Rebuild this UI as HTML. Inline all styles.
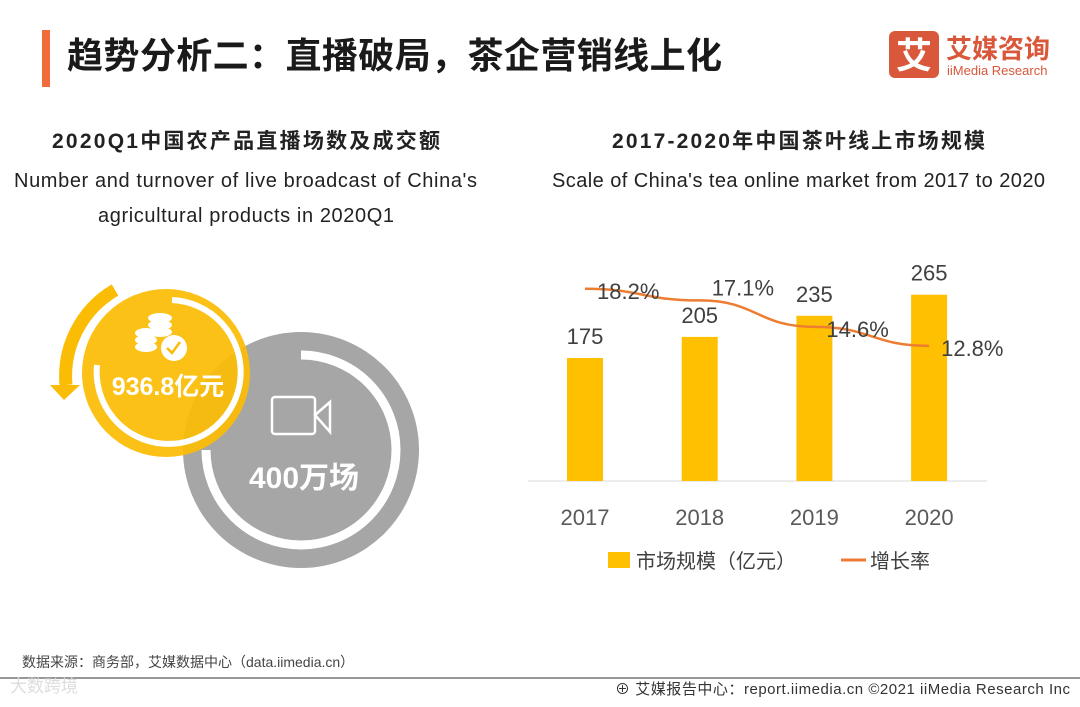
<!DOCTYPE html>
<html><head><meta charset="utf-8"><style>
body{margin:0;background:#fff;}
svg text{font-family:"Liberation Sans","Noto Sans CJK SC",sans-serif;}
</style></head><body>
<svg id="page" width="1080" height="702" viewBox="0 0 1080 702" xmlns="http://www.w3.org/2000/svg">
<rect x="0" y="0" width="1080" height="702" fill="#fff"/>
<rect x="42" y="30" width="8" height="57" fill="#f26b3a"/>
<text x="67" y="68" font-size="36" fill="#1a1a1a" font-weight="bold" textLength="655">趋势分析二：直播破局，茶企营销线上化</text>
<g>
<rect x="889" y="31" width="50" height="47" rx="6" fill="#d9573a"/>
<text x="914" y="68" font-size="36" fill="#fff" text-anchor="middle" font-weight="bold">艾</text>
<text x="946" y="58" font-size="26" fill="#d9573a" font-weight="bold">艾媒咨询</text>
<text x="947" y="75" font-size="13" fill="#d9573a">iiMedia Research</text>
</g>
<text x="52" y="148" font-size="21" font-weight="bold" fill="#222" textLength="388">2020Q1中国农产品直播场数及成交额</text>
<text x="14" y="187" font-size="20" fill="#222" textLength="463">Number and turnover of live broadcast of China's</text>
<text x="98" y="222" font-size="20" fill="#222" textLength="296">agricultural products in 2020Q1</text>
<text x="612" y="148" font-size="21" font-weight="bold" fill="#222" textLength="373">2017-2020年中国茶叶线上市场规模</text>
<text x="552" y="187" font-size="20" fill="#222" textLength="493">Scale of China's tea online market from 2017 to 2020</text>

<g>
<circle cx="301" cy="450" r="118" fill="#a6a6a6"/>
<path d="M301 355 A95 95 0 1 1 206 450" fill="none" stroke="#fff" stroke-width="9"/>
<g fill="none" stroke="#fff" stroke-width="2.5">
<rect x="272" y="397" width="43" height="37" rx="3"/>
<path d="M315 415 L330 402 L330 432 Z"/>
</g>
<text x="304" y="488" font-size="30" font-weight="bold" fill="#fff" text-anchor="middle">400万场</text>
</g>
<g>
<path d="M115 290 A100 100 0 0 0 66 385" fill="none" stroke="#fbbc05" stroke-width="13"/>
<path d="M50 385 L80 385 L64 400 Z" fill="#fbbc05"/>
<circle cx="166" cy="373" r="84" fill="#fbbc05" fill-opacity="0.93"/>
<path d="M172 300 A72 72 0 1 1 97 365" fill="none" stroke="#fff" stroke-width="6"/>
<g fill="#fff">
<ellipse cx="160" cy="318" rx="12" ry="5"/><ellipse cx="160" cy="325" rx="12" ry="5"/><ellipse cx="160" cy="332" rx="12" ry="5"/>
<ellipse cx="146" cy="333" rx="11" ry="5"/><ellipse cx="146" cy="340" rx="11" ry="5"/><ellipse cx="146" cy="347" rx="11" ry="5"/>
<circle cx="174" cy="348" r="13"/>
</g>
<path d="M167 348 L172 353 L180 342" fill="none" stroke="#fbbc05" stroke-width="2.5"/>
<text x="168" y="395" font-size="25" font-weight="bold" fill="#fff" text-anchor="middle">936.8亿元</text>
</g>

<g id="chart"></g>

<text x="22" y="667" font-size="14" fill="#444">数据来源：商务部，艾媒数据中心（data.iimedia.cn）</text>
<line x1="0" y1="678" x2="1080" y2="678" stroke="#777" stroke-width="1.5"/>
<text x="10" y="692" font-size="17" fill="#ddd">大数跨境</text>
<text x="615" y="694" font-size="15" fill="#333" textLength="455">⊕ 艾媒报告中心：report.iimedia.cn  ©2021  iiMedia Research  Inc</text>
</svg>
<script>
const categories = ["2017","2018","2019","2020"];
const marketSize = [175,205,235,265];
const growthRate = [18.2,17.1,14.6,12.8];
const growthLabels = ["18.2%","17.1%","14.6%","12.8%"];

const NS="http://www.w3.org/2000/svg";
const g=document.getElementById('chart');
const baseY=481, x0=585, step=114.7, barW=36;
const xPos=i=>x0+i*step;
const yBar=v=>baseY-v*0.703;
const yLine=v=>baseY-v*10.56;
function mk(t,a){const e=document.createElementNS(NS,t);for(const k in a)e.setAttribute(k,a[k]);g.appendChild(e);return e;}
const ax=mk('line',{x1:528,y1:baseY,x2:987,y2:baseY,stroke:'#d9d9d9','stroke-width':1});


categories.forEach((c,i)=>{
  const v=marketSize[i];
  const b=mk('rect',{x:xPos(i)-barW/2,y:yBar(v),width:barW,height:baseY-yBar(v),fill:'#fec000'});
  
  
  const l=mk('text',{x:xPos(i),y:yBar(v)-14,'font-size':22,fill:'#404040','text-anchor':'middle'});
  l.textContent=v;
  
  
  const t=mk('text',{x:xPos(i),y:baseY+44,'font-size':22,fill:'#595959','text-anchor':'middle'});
  t.textContent=c;
  
  
});
let d='';
growthRate.forEach((v,i)=>{
  const x=xPos(i), y=yLine(v);
  if(i===0){d+='M'+x+' '+y;}
  else{const px=xPos(i-1), py=yLine(growthRate[i-1]);const cx=(px+x)/2;d+=' C'+cx+' '+py+' '+cx+' '+y+' '+x+' '+y;}
});
const ln=mk('path',{d:d,fill:'none',stroke:'#ed7d31','stroke-width':2.5});


growthRate.forEach((v,i)=>{
  const t=mk('text',{x:xPos(i)+12,y:yLine(v)+10,'font-size':22,fill:'#404040'});
  if(i===1){t.setAttribute('y',yLine(v)-5);}
  t.textContent=growthLabels[i];
  
  
});
const lg1=mk('rect',{x:608,y:552,width:22,height:16,fill:'#fec000'});


const lt1=mk('text',{x:636,y:568,'font-size':20,fill:'#404040'});
lt1.textContent='市场规模（亿元）';


const lg2=mk('line',{x1:841,y1:560,x2:866,y2:560,stroke:'#ed7d31','stroke-width':3});


const lt2=mk('text',{x:870,y:568,'font-size':20,fill:'#404040'});
lt2.textContent='增长率';


</script>
</body></html>
